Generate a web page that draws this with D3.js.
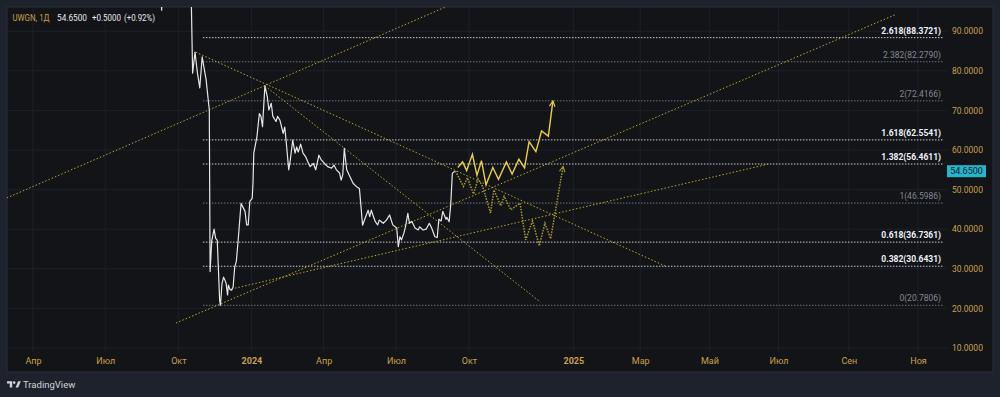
<!DOCTYPE html>
<html>
<head>
<meta charset="utf-8">
<script src="https://cdn.jsdelivr.net/npm/d3@7"></script>
<style>
  body { margin: 0; background: #1e222d; }
  text { font-family: Roboto, "DejaVu Sans", sans-serif; }
</style>
</head>
<body>
<svg id="chart"></svg>
<script>
// data
var priceDates = ["2023-08-26","2023-09-07","2023-09-10","2023-09-12","2023-10-03","2023-10-16","2023-10-19","2023-10-22","2023-10-25","2023-10-28","2023-10-31","2023-11-05","2023-11-09","2023-11-10","2023-11-12","2023-11-15","2023-11-17","2023-11-19","2023-11-21","2023-11-22","2023-11-23","2023-11-25","2023-11-27","2023-11-30","2023-12-02","2023-12-03","2023-12-05","2023-12-07","2023-12-09","2023-12-11","2023-12-13","2023-12-15","2023-12-17","2023-12-19","2023-12-21","2023-12-24","2023-12-26","2023-12-28","2023-12-30","2024-01-02","2024-01-03","2024-01-04","2024-01-08","2024-01-11","2024-01-13","2024-01-15","2024-01-18","2024-01-21","2024-01-23","2024-01-26","2024-01-28","2024-02-01","2024-02-03","2024-02-06","2024-02-10","2024-02-12","2024-02-14","2024-02-17","2024-02-19","2024-02-22","2024-02-25","2024-02-27","2024-02-29","2024-03-03","2024-03-06","2024-03-09","2024-03-13","2024-03-15","2024-03-19","2024-03-22","2024-03-26","2024-03-29","2024-04-02","2024-04-06","2024-04-11","2024-04-14","2024-04-17","2024-04-21","2024-04-23","2024-04-25","2024-04-27","2024-04-30","2024-05-04","2024-05-08","2024-05-12","2024-05-16","2024-05-18","2024-05-20","2024-05-24","2024-05-27","2024-05-29","2024-05-31","2024-06-02","2024-06-05","2024-06-08","2024-06-10","2024-06-15","2024-06-19","2024-06-23","2024-06-27","2024-07-02","2024-07-04","2024-07-06","2024-07-08","2024-07-11","2024-07-13","2024-07-16","2024-07-18","2024-07-21","2024-07-25","2024-07-29","2024-07-31","2024-08-04","2024-08-08","2024-08-12","2024-08-15","2024-08-19","2024-08-22","2024-08-24","2024-08-27","2024-08-29","2024-09-02","2024-09-03","2024-09-06","2024-09-08","2024-09-10","2024-09-13"];
var priceValues = [120,108,95.3,108,118,112,79.4,84.7,79.5,75.7,83.5,77.7,70.1,29.3,36.9,40.0,37.7,37.2,27.2,22.1,20.8,26.3,27.9,26.5,23.4,25.9,24.8,24.6,25.4,30.5,31.8,36.4,41.5,46.5,45.7,44.5,41.1,41.1,47.0,47.8,51.6,59.2,63.4,69.2,68.5,65.9,76.2,73.5,70.1,71.8,68.5,67.2,68.5,67.5,64.2,65.8,61.7,55.0,57.5,62.5,59.2,60.8,59.5,61.5,59.2,58.4,56.6,55.8,56.6,55.0,58.7,57.5,56.6,55.8,55.4,56.2,55.0,54.2,52.4,53.7,60.4,55.0,53.3,51.6,50.8,50.3,45.7,41.0,43.2,44.8,43.2,44.8,43.6,41.9,41.1,42.3,41.5,42.3,43.6,41.1,40.3,35.6,38.1,37.3,39.0,40.6,44.0,41.5,42.0,40.3,39.8,40.6,39.8,40.0,41.5,40.3,38.1,37.9,42.5,42.1,44.5,42.5,43.0,41.9,46.1,54.1,54.65];

// projected paths
var projUpDates = ["2024-09-17","2024-09-23","2024-09-28","2024-10-04","2024-10-08","2024-10-12","2024-10-16","2024-10-22","2024-10-27","2024-11-03","2024-11-08","2024-11-14","2024-11-19","2024-11-23","2024-11-29","2024-12-04","2024-12-10","2024-12-14"];
var projUpValues = [55.6,57.0,54.8,58.9,53.6,57.3,51.2,55.6,52.6,57.0,53.9,57.65,55.5,62.1,59.6,64.8,63.5,72.4];
var projDownDates = ["2024-09-14","2024-09-24","2024-09-29","2024-10-05","2024-10-09","2024-10-13","2024-10-20","2024-10-23","2024-10-29","2024-11-01","2024-11-07","2024-11-15","2024-11-20","2024-11-26","2024-12-02","2024-12-07","2024-12-12","2024-12-23"];
var projDownValues = [54.7,50.8,53.0,48.9,52.7,50.8,44.1,49.9,45.9,48.3,44.9,46.6,37.3,42.1,35.8,41.5,37.6,55.9];

// trend lines: [start date, start value, end date, end value]
var lineA = ["2023-02-27", 47.9, "2024-09-07", 96.6];
var lineB = ["2023-09-28", 16.3, "2025-10-13", 94.3];
var lineC = ["2023-10-23", 84.7, "2025-03-23", 30.7];
var lineD = ["2024-01-18", 76.2, "2024-12-03", 21.6];
var lineE = ["2023-12-07", 24.9, "2025-06-23", 56.5];

// fibonacci extension
var fibRatios = ["0", "0.382", "0.618", "1", "1.382", "1.618", "2", "2.382", "2.618"];
var fibValues = [20.7806, 30.6431, 36.7361, 46.5986, 56.4611, 62.5541, 72.4166, 82.2790, 88.3721];
var fibStart = "2023-11-01", fibEnd = "2025-11-24";

// axes
var xTickDates = ["2023-04-01","2023-07-01","2023-10-01","2024-01-01","2024-04-01","2024-07-01","2024-10-01","2025-01-01","2025-03-01","2025-05-01","2025-07-01","2025-09-01","2025-11-01"];
var xTickLabels = ["Апр","Июл","Окт","2024","Апр","Июл","Окт","2025","Мар","Май","Июл","Сен","Ноя"];
var yTicks = [10, 20, 30, 40, 50, 60, 70, 80, 90];
var lastPrice = 54.65;

var svgWidth = 1000, svgHeight = 397;
var parse = d3.timeParse("%Y-%m-%d");
var gold = "#c9a24b";

var svg = d3.select("#chart").attr("width", svgWidth).attr("height", svgHeight);

// pane
svg.append("rect").attr("width", svgWidth).attr("height", svgHeight).attr("fill", "#1e222d");
svg.append("rect").attr("x", 7).attr("y", 7).attr("width", 986).attr("height", 365)
   .attr("fill", "#121418").attr("stroke", "#2a2e39");

// past bars are squeezed (trading days), future uses calendar days
var x = d3.scaleTime()
    .domain([parse("2023-04-01"), parse("2024-10-01"), parse("2025-11-01")])
    .range([33, 469, 918]);
var y = d3.scaleLinear().domain([10, 90]).range([348, 31.2]);

svg.append("defs").append("clipPath").attr("id", "plot")
   .append("rect").attr("x", 7).attr("y", 7).attr("width", 986).attr("height", 345);

// grid
svg.append("g").selectAll("line").data(yTicks).join("line")
   .attr("x1", 7).attr("x2", 947).attr("y1", d => y(d)).attr("y2", d => y(d))
   .attr("stroke", "#1d2029");
svg.append("g").selectAll("line").data(xTickDates).join("line")
   .attr("x1", d => x(parse(d))).attr("x2", d => x(parse(d)))
   .attr("y1", 7).attr("y2", 352).attr("stroke", "#1d2029");

// axes
var yAxis = d3.axisRight(y).tickValues(yTicks).tickSize(0).tickPadding(5)
    .tickFormat(d3.format(".4f"));
svg.append("g").attr("transform", "translate(947,0)").call(yAxis)
   .call(g => g.select(".domain").remove())
   .selectAll("text").attr("fill", gold).style("font-size", "8.5px");

var xAxis = d3.axisBottom(x).tickValues(xTickDates.map(parse)).tickSize(0).tickPadding(6)
    .tickFormat((d, i) => xTickLabels[i]);
svg.append("g").attr("transform", "translate(0,352)").call(xAxis)
   .call(g => g.select(".domain").remove())
   .selectAll("text").attr("fill", gold).style("font-size", "9px")
   .style("font-weight", (d, i) => /^\d+$/.test(xTickLabels[i]) ? "bold" : "normal");

var plot = svg.append("g").attr("clip-path", "url(#plot)");

// fib levels
var brightFib = ["0.382", "0.618", "1.382", "1.618", "2.618"];
fibValues.forEach(function(v, i) {
  var bright = brightFib.indexOf(fibRatios[i]) >= 0;
  plot.append("line")
      .attr("x1", x(parse(fibStart))).attr("x2", x(parse(fibEnd)))
      .attr("y1", y(v)).attr("y2", y(v))
      .attr("stroke", bright ? "#c9ccd4" : "#6f737e")
      .attr("stroke-dasharray", "1.5,1.5");
  svg.append("text")
      .attr("x", 941).attr("y", y(v) - 4)
      .attr("text-anchor", "end")
      .attr("fill", bright ? "#f0f2f6" : "#858892")
      .style("font-size", "8.5px")
      .style("font-weight", bright ? "bold" : "normal")
      .text(fibRatios[i] + "(" + v.toFixed(4) + ")");
});

// trend lines
[lineA, lineB, lineC, lineD, lineE].forEach(function(l) {
  plot.append("line")
      .attr("x1", x(parse(l[0]))).attr("y1", y(l[1]))
      .attr("x2", x(parse(l[2]))).attr("y2", y(l[3]))
      .attr("stroke", "#bba532")
      .attr("stroke-width", 1)
      .attr("stroke-dasharray", "1.5,2");
});

// arrow markers
var defs = svg.select("defs");
function marker(id, color) {
  defs.append("marker").attr("id", id)
      .attr("viewBox", "0 0 10 10").attr("refX", 9).attr("refY", 5)
      .attr("markerWidth", 7).attr("markerHeight", 7).attr("orient", "auto")
      .attr("markerUnits", "userSpaceOnUse")
      .append("path").attr("d", "M1,1 L9,5 L1,9")
      .attr("fill", "none").attr("stroke", color).attr("stroke-width", 1.6);
}
marker("arrUp", "#e8d13a");
marker("arrDown", "#a7972e");

var line = d3.line().x(d => x(d[0])).y(d => y(d[1]));

// price
plot.append("path")
    .datum(priceDates.map((d, i) => [parse(d), priceValues[i]]))
    .attr("d", line).attr("fill", "none")
    .attr("stroke", "#e6e6e6").attr("stroke-width", 1.2).attr("stroke-linejoin", "round");

// projections
plot.append("path")
    .datum(projDownDates.map((d, i) => [parse(d), projDownValues[i]]))
    .attr("d", line).attr("fill", "none")
    .attr("stroke", "#ab9a2e").attr("stroke-width", 1.5)
    .attr("stroke-dasharray", "1.5,1.3")
    .attr("marker-end", "url(#arrDown)");
plot.append("path")
    .datum(projUpDates.map((d, i) => [parse(d), projUpValues[i]]))
    .attr("d", line).attr("fill", "none")
    .attr("stroke", "#e8d13a").attr("stroke-width", 1.4)
    .attr("marker-end", "url(#arrUp)");

// last price label
svg.append("rect").attr("x", 947).attr("y", y(lastPrice) - 6).attr("width", 39).attr("height", 12)
   .attr("fill", "#1fb8cd");
svg.append("text").attr("x", 966.5).attr("y", y(lastPrice) + 3.2)
   .attr("text-anchor", "middle").attr("fill", "#10131a")
   .style("font-size", "9px").text(lastPrice.toFixed(4));

// header
var headParts = [["UWGN, 1Д", 12.5, 37, gold], ["54.6500", 57, 30, "#e6e8ee"],
                 ["+0.5000", 92, 29, "#e6e8ee"], ["(+0.92%)", 124, 31, "#e6e8ee"]];
headParts.forEach(function(p) {
  svg.append("text").attr("x", p[1]).attr("y", 20.5)
     .attr("textLength", p[2]).attr("lengthAdjust", "spacingAndGlyphs")
     .attr("fill", p[3]).style("font-size", "9.5px").text(p[0]);
});

// TradingView mark
var logo = svg.append("g").attr("fill", "#d1d4dc");
logo.append("path").attr("d", "M7,381.2h5.2v6.4h-2.4v-4.1h-2.8z");
logo.append("circle").attr("cx", 14.2).attr("cy", 382.6).attr("r", 1.3);
logo.append("path").attr("d", "M15.6,387.6L18.2,381.2h2.6L18.2,387.6z");
svg.append("text").attr("x", 23).attr("y", 388).attr("fill", "#d1d4dc")
   .style("font-size", "9.5px").text("TradingView");
</script>
</body>
</html>
